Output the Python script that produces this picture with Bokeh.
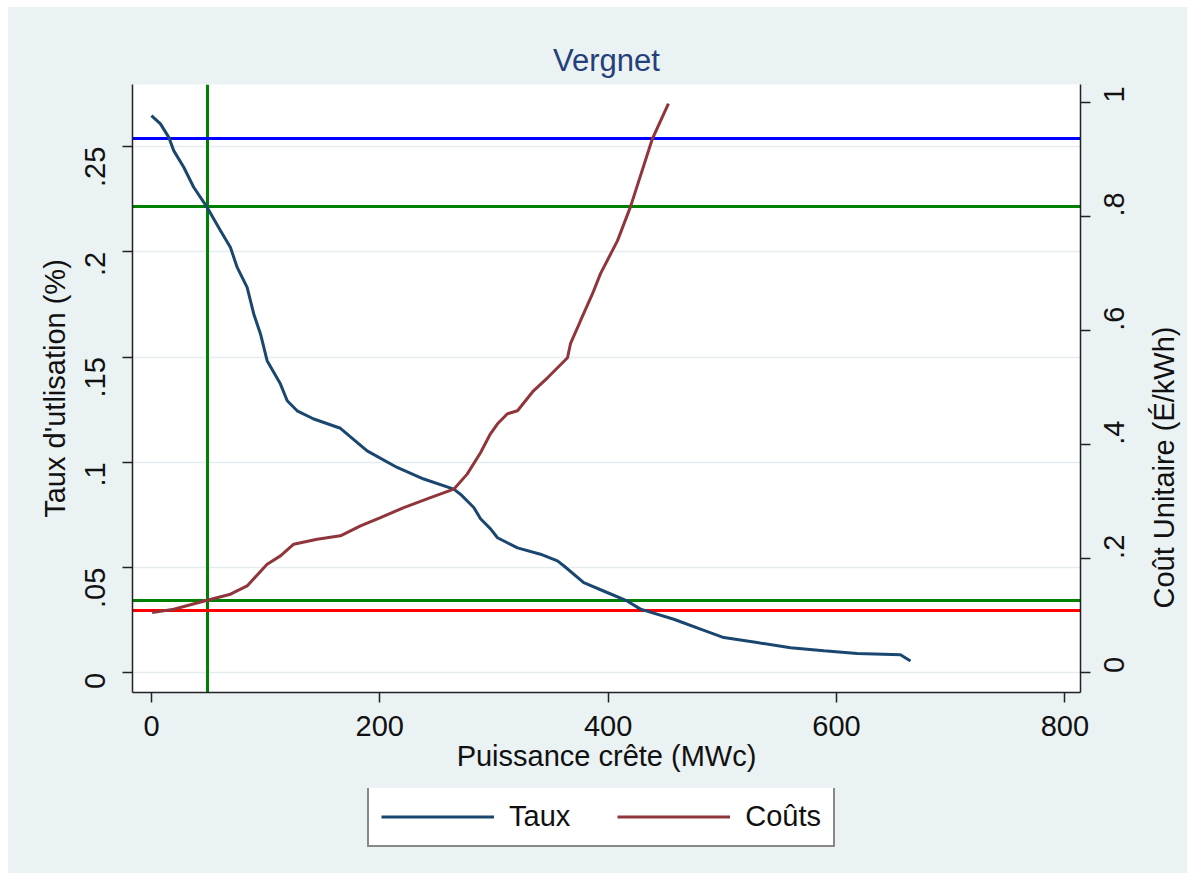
import math
from bokeh.plotting import figure
from bokeh.layouts import column, row
from bokeh.models import Range1d, LinearAxis, FixedTicker, Legend, LegendItem, Label
from bokeh.embed import file_html
from bokeh.resources import INLINE

FONT = "Liberation Sans"

# ---- data ----
puissance_taux = [0, 7.9, 15.2, 19.5, 28.3, 37.0, 48.8, 60.4, 69.2, 75.1, 83.8, 89.6, 95.5,
                  101.3, 113.0, 118.9, 127.6, 142.2, 165.5, 188.9, 215.2, 238.5, 264.8, 270.6,
                  282.3, 288.2, 297.0, 303.1, 320.6, 340.7, 355.6, 361.1, 378.6, 399.1, 416.6,
                  428.3, 457.5, 480.9, 501.3, 530.5, 559.7, 588.9, 618.1, 656.0, 664.8]
taux = [0.2647, 0.2608, 0.2544, 0.2481, 0.2402, 0.2307, 0.2211, 0.2101, 0.2021, 0.1926,
        0.1831, 0.1705, 0.1610, 0.1483, 0.1372, 0.1293, 0.1245, 0.1206, 0.1162, 0.1055,
        0.0976, 0.0921, 0.0873, 0.0849, 0.0786, 0.0732, 0.0684, 0.0642, 0.0594, 0.0564,
        0.0532, 0.0509, 0.0429, 0.0382, 0.0342, 0.0303, 0.0255, 0.0208, 0.0168, 0.0144,
        0.0120, 0.0105, 0.0092, 0.0086, 0.0057]

puissance_couts = [0.6, 19.5, 48.8, 69.2, 83.8, 101.3, 113.0, 124.6, 145.1, 165.5, 183.1,
                   200.6, 221.0, 244.4, 264.8, 276.5, 288.2, 296.9, 303.1, 311.8, 320.6,
                   334.6, 346.9, 364.4, 367.0, 375.8, 386.3, 393.3, 408.2, 419.6, 438.8, 452.8]
couts = [0.1058, 0.1118, 0.1275, 0.1381, 0.1526, 0.1907, 0.2053, 0.2258, 0.2346, 0.2404,
         0.2579, 0.2725, 0.2900, 0.3075, 0.3223, 0.3486, 0.3860, 0.4193, 0.4368, 0.4544,
         0.4596, 0.4947, 0.5175, 0.5526, 0.5772, 0.6175, 0.6649, 0.7000, 0.7579, 0.8175,
         0.9368, 0.9982]

x_ticks = [0, 200, 400, 600, 800]
taux_ticks = [0, 0.05, 0.1, 0.15, 0.2, 0.25]
taux_tick_labels = ["0", ".05", ".1", ".15", ".2", ".25"]
cout_ticks = [0, 0.2, 0.4, 0.6, 0.8, 1.0]
cout_tick_labels = ["0", ".2", ".4", ".6", ".8", "1"]

vline_puissance = [49]
hlines_taux = [0.2539, 0.2215]
hlines_taux_colors = ["#0000ff", "#008000"]
hlines_cout = [0.1263, 0.1100]
hlines_cout_colors = ["#008000", "#ff0000"]

series_names = ["Taux", "Coûts"]
title_text = "Vergnet"
x_title = "Puissance crête (MWc)"
y_title = "Taux d'utlisation (%)"
y2_title = "Coût Unitaire (É/kWh)"

BG = "#EAF2F3"
NAVY = "#1a476f"
MAROON = "#90353b"

# ---------------- main plot ----------------
p = figure(frame_width=948, frame_height=608, output_backend="svg", toolbar_location=None,
           x_range=Range1d(-16.6, 813.7), y_range=Range1d(-0.0093, 0.2795),
           min_border_left=124, min_border_right=56, min_border_top=77,
           min_border_bottom=96)
p.extra_y_ranges = {"cout": Range1d(-0.0342, 1.0316)}
p.background_fill_color = "white"
p.border_fill_color = BG
p.outline_line_color = None

# reference lines (drawn beneath the curves)
p.vspan(x=vline_puissance, line_color="#008000", line_width=3)
p.hspan(y=hlines_taux, line_color=hlines_taux_colors, line_width=3)
p.hspan(y=hlines_cout, line_color=hlines_cout_colors, line_width=3, y_range_name="cout")

r1 = p.line(puissance_taux, taux, line_color=NAVY, line_width=3)
r2 = p.line(puissance_couts, couts, line_color=MAROON, line_width=3, y_range_name="cout")

p.xgrid.visible = False
p.ygrid.ticker = FixedTicker(ticks=taux_ticks)
p.ygrid.grid_line_color = "#E4ECEF"
p.ygrid.grid_line_width = 1.5

p.xaxis.ticker = FixedTicker(ticks=x_ticks)
p.xaxis.axis_label = x_title
p.yaxis.ticker = FixedTicker(ticks=taux_ticks)
p.yaxis.major_label_overrides = {t: l for t, l in zip(taux_ticks, taux_tick_labels)}
p.yaxis.axis_label = y_title

ax2 = LinearAxis(y_range_name="cout", ticker=FixedTicker(ticks=cout_ticks),
                 major_label_overrides={t: l for t, l in zip(cout_ticks, cout_tick_labels)})
p.add_layout(ax2, "right")

for ax in [p.xaxis[0], p.yaxis[0], ax2]:
    ax.major_tick_out = 10
    ax.major_tick_in = 0
    ax.minor_tick_out = 0
    ax.minor_tick_in = 0
    ax.axis_line_width = 1.5
    ax.axis_line_color = "#222222"
    ax.major_tick_line_width = 1.5
    ax.major_tick_line_color = "#222222"
    ax.major_label_text_font = FONT
    ax.major_label_text_font_size = "29px"
    ax.major_label_text_color = "#111111"
    ax.axis_label_text_font = FONT
    ax.axis_label_text_font_size = "29px"
    ax.axis_label_text_font_style = "normal"
    ax.axis_label_text_color = "#111111"

p.xaxis[0].major_label_standoff = 13
p.xaxis[0].axis_label_standoff = 1

p.yaxis[0].major_label_orientation = math.pi / 2
p.yaxis[0].major_label_standoff = 27
p.yaxis[0].axis_label_standoff = 2

ax2.major_label_orientation = math.pi / 2
ax2.major_label_standoff = 24

p.title.text = title_text
p.title.align = "center"
p.title.text_font = FONT
p.title.text_font_size = "31px"
p.title.text_font_style = "normal"
p.title.text_color = "#24407a"
p.title.standoff = 13

# ---------------- strip holding the right-axis title (reads bottom to top) ----------------
STRIP_W, STRIP_H = 50, 781
strip = figure(frame_width=STRIP_W, frame_height=STRIP_H, output_backend="svg",
               toolbar_location=None, x_axis_type=None, y_axis_type=None,
               x_range=Range1d(0, STRIP_W), y_range=Range1d(0, STRIP_H), min_border=0)
strip.background_fill_color = BG
strip.border_fill_color = BG
strip.outline_line_color = None
strip.grid.visible = False
strip.add_layout(Label(x=26, y=STRIP_H - 383, text=y2_title, angle=math.pi / 2,
                       text_align="center", text_baseline="alphabetic",
                       text_font=FONT, text_font_size="29px", text_color="#111111"))

# ---------------- legend strip ----------------
LEG_W, LEG_H = 1178, 85
lf = figure(frame_width=LEG_W, frame_height=LEG_H, output_backend="svg",
            toolbar_location=None, x_axis_type=None, y_axis_type=None,
            x_range=Range1d(5000, 5001), y_range=Range1d(5000, 5001), min_border=0)
lf.background_fill_color = BG
lf.border_fill_color = BG
lf.outline_line_color = None
lf.grid.visible = False
l1 = lf.line(puissance_taux, taux, line_color=NAVY, line_width=3)
l2 = lf.line(puissance_couts, couts, line_color=MAROON, line_width=3)

legend = Legend(items=[LegendItem(label=series_names[0], renderers=[l1]),
                       LegendItem(label=series_names[1], renderers=[l2])],
                orientation="horizontal", location=(359, 26),
                label_text_font=FONT, label_text_font_size="29px", label_text_color="#111111",
                glyph_width=113, glyph_height=33, label_standoff=15, spacing=47,
                padding=12, margin=0, border_line_color="#111111", border_line_width=2,
                background_fill_color="white", background_fill_alpha=1.0)
lf.add_layout(legend, "center")

top_row = row(p, strip, styles={"background-color": BG})
layout = column(top_row, lf, styles={"background-color": BG})
layout.margin = (7, 0, 0, 8)
open("out.html", "w").write(file_html(layout, INLINE))
